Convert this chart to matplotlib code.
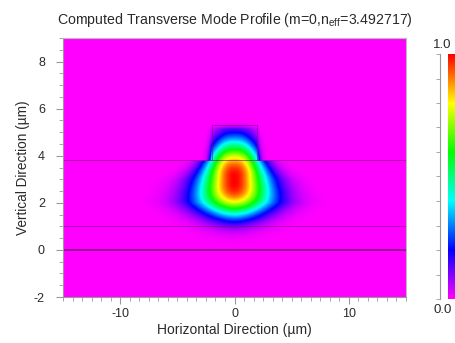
import numpy as np
import matplotlib
matplotlib.use("Agg")
import matplotlib.pyplot as plt
from matplotlib.colors import LinearSegmentedColormap
from matplotlib.ticker import MultipleLocator

plt.rcParams['font.family'] = ['Liberation Sans', 'DejaVu Sans']
plt.rcParams['mathtext.fontset'] = 'custom'
plt.rcParams['mathtext.rm'] = 'Liberation Sans'
plt.rcParams['mathtext.it'] = 'Liberation Sans'
plt.rcParams['axes.unicode_minus'] = False

# ---- data / structure ----
title = "Computed Transverse Mode Profile (m=0,n$_{\\mathrm{eff}}$=3.492717)"
xlabel = "Horizontal Direction (\u00b5m)"
ylabel = "Vertical Direction (\u00b5m)"
x_range = [-15, 15]
y_range = [-2, 9]
x_ticks = [-10, 0, 10]
y_ticks = [-2, 0, 2, 4, 6, 8]
layer_lines = [0.0, 1.0, 3.8]          # horizontal interfaces (um)
rib_x = [-2.0, 2.0]                      # rib side walls (um)
rib_top = 5.3                            # rib top (um)

# mode parameters
mode_center_y = 3.0
sv_up = 1.65
sv_down = 1.55
pv_up = 2.5
pv_down = 3.0
width_y = [1.0, 2.0, 3.0, 3.8, 4.5, 5.3]
width_w = [2.6, 3.4, 2.9, 2.3, 2.0, 1.7]
shape_y = [1.0, 3.0, 3.8, 5.3]
shape_p = [1.8, 2.0, 2.5, 2.6]
cbar_colors = ['#ff00ff', '#0000ff', '#00ffff', '#00ff00', '#ffff00', '#ff0000']
cbar_stops = [0.0, 0.2, 0.4, 0.6, 0.8, 1.0]

# ---- field ----
xs = np.linspace(x_range[0], x_range[1], 601)
ys = np.linspace(y_range[0], y_range[1], 441)
X, Y = np.meshgrid(xs, ys)
dy = Y - mode_center_y
sv = np.where(dy > 0, sv_up, sv_down)
pv = np.where(dy > 0, pv_up, pv_down)
V = np.exp(-(np.abs(dy) / sv) ** pv)
W = np.interp(Y, width_y, width_w)
P = np.interp(Y, shape_y, shape_p)
H = np.exp(-(np.abs(X) / W) ** P)
wall = np.where((Y > layer_lines[2]) & (np.abs(X) > rib_x[1]),
                np.exp(-(np.abs(X) - rib_x[1]) / 0.3), 1.0)
top = np.exp(-np.clip(Y - (rib_top - 0.15), 0, None) / 0.12)
F = V * H * wall * top
F = F / F.max()

cmap = LinearSegmentedColormap.from_list('mode', list(zip(cbar_stops, cbar_colors)))

fig = plt.figure(figsize=(4.55, 3.43), dpi=100)
ax = fig.add_axes([63/455, 1-297/343, (406-63)/455, (297-38)/343])
ax.imshow(F, extent=[x_range[0], x_range[1], y_range[0], y_range[1]],
          origin='lower', aspect='auto', cmap=cmap, vmin=0, vmax=1,
          interpolation='bilinear')

lc = '#7a0a7a'
for yl in layer_lines:
    ax.axhline(yl, color=lc, lw=1.2 if yl == 0 else 0.7, alpha=0.9 if yl == 0 else 0.6)
ax.plot([rib_x[0], rib_x[0], rib_x[1], rib_x[1]],
        [layer_lines[2], rib_top, rib_top, layer_lines[2]], color=lc, lw=0.7, alpha=0.55)

ax.set_xlim(x_range)
ax.set_ylim(y_range)
ax.set_xticks(x_ticks)
ax.set_yticks(y_ticks)
ax.xaxis.set_minor_locator(MultipleLocator(10/12))
ax.yaxis.set_minor_locator(MultipleLocator(0.5))
gray = '#999999'
txt = '#2a2a2a'
for s in ax.spines.values():
    s.set_color('#bbbbbb')
    s.set_linewidth(0.8)
ax.spines['left'].set_color(gray)
ax.spines['bottom'].set_color(gray)
ax.tick_params(which='both', direction='out', colors=gray, labelcolor=txt, labelsize=9)
ax.tick_params(which='major', length=5, width=0.8)
ax.tick_params(which='minor', length=3, width=0.6)
ax.tick_params(axis='y', pad=8)
ax.tick_params(axis='x', pad=3)
ax.set_title(title, fontsize=10.2, color=txt, pad=10)
ax.set_xlabel(xlabel, fontsize=10, color=txt, labelpad=2)
ax.set_ylabel(ylabel, fontsize=9.8, color=txt, labelpad=3)

# colorbar
cax = fig.add_axes([448/455, 1-299/343, 8/455, (299-54)/343])
grad = np.linspace(0, 1, 256).reshape(-1, 1)
cax.imshow(grad, extent=[0, 1, 0, 1], origin='lower', aspect='auto', cmap=cmap)
cax.set_xlim(0, 1)
cax.set_ylim(0, 1)
for k in ['top', 'right', 'bottom']:
    cax.spines[k].set_visible(False)
cax.spines['left'].set_position(('outward', 6))
cax.spines['left'].set_color(gray)
cax.set_xticks([])
cax.yaxis.set_major_locator(MultipleLocator(0.1))
cax.tick_params(axis='y', direction='out', length=3, width=0.6, colors=gray, labelleft=False)
fig.text(433/455, 1-45/343, "1.0", fontsize=9.5, color=txt, ha='left', va='center')
fig.text(433/455, 1-310/343, "0.0", fontsize=9.5, color=txt, ha='left', va='center')

fig.savefig('out.png', dpi=100)
